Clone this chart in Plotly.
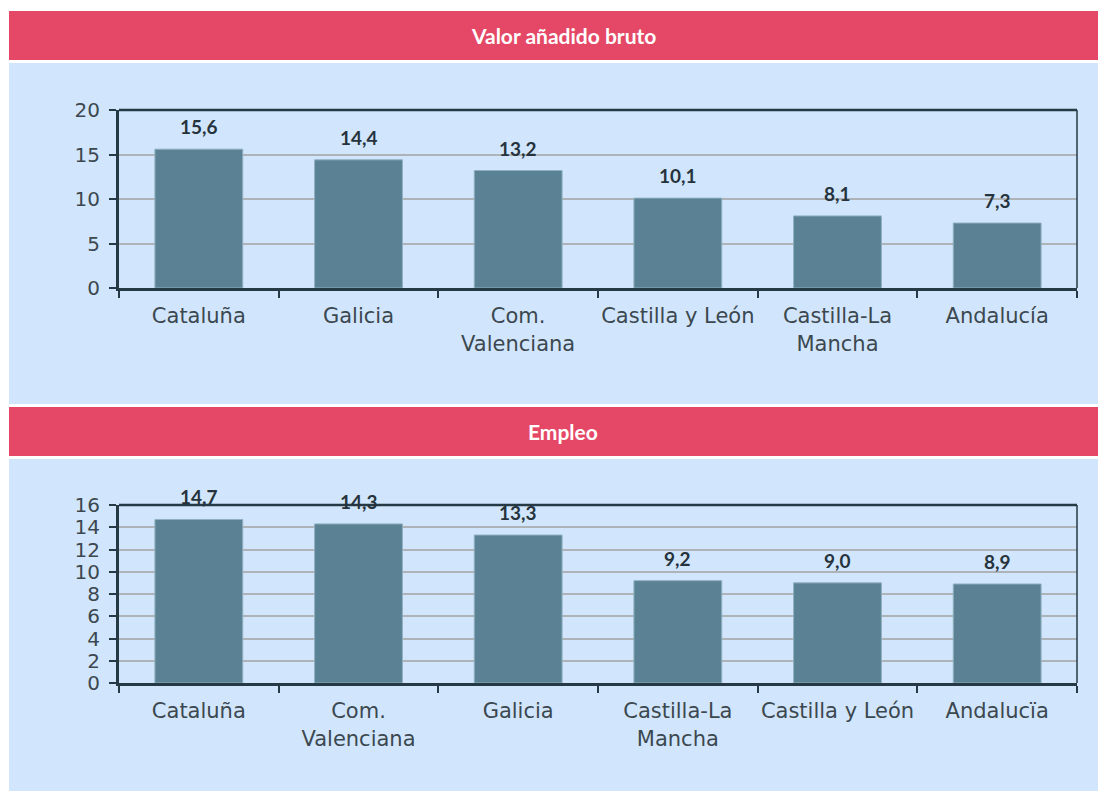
import plotly.graph_objects as go

# ---- data ----
vab_categories = ["Cataluña", "Galicia", "Com.<br>Valenciana", "Castilla y León", "Castilla-La<br>Mancha", "Andalucía"]
vab_values = [15.6, 14.4, 13.2, 10.1, 8.1, 7.3]

emp_categories = ["Cataluña", "Com.<br>Valenciana", "Galicia", "Castilla-La<br>Mancha", "Castilla y León", "Andalucïa"]
emp_values = [14.7, 14.3, 13.3, 9.2, 9.0, 8.9]

titles = ["Valor añadido bruto", "Empleo"]
vab_yticks = [0, 5, 10, 15, 20]
emp_yticks = [0, 2, 4, 6, 8, 10, 12, 14, 16]

OFF = 8  # default page body margin
W, H = 1106 - OFF, 791 - OFF
HEADER = "#E44866"
PANEL = "#D1E6FC"
BAR = "#5B8294"
AXIS = "#263A45"
GRID = "#AEB3B8"
TXT = "#3C4850"
FONT = "DejaVu Sans"
BFONT = "Lato"


def px(x):
    return (x - OFF) / W


def py(y):
    return 1 - (y - OFF) / H


fig = go.Figure()

fig.add_trace(go.Bar(x=vab_categories, y=vab_values, xaxis="x", yaxis="y",
                     marker=dict(color=BAR, line=dict(color="#8FB0C0", width=1)),
                     width=0.55, hoverinfo="x+y"))
fig.add_trace(go.Bar(x=emp_categories, y=emp_values, xaxis="x2", yaxis="y2",
                     marker=dict(color=BAR, line=dict(color="#8FB0C0", width=1)),
                     width=0.55, hoverinfo="x+y"))

annotations = []
for cats, vals, xr, yr in [(vab_categories, vab_values, "x", "y"), (emp_categories, emp_values, "x2", "y2")]:
    for c, v in zip(cats, vals):
        annotations.append(dict(x=c, y=v, xref=xr, yref=yr, text=f"{v:.1f}".replace(".", ","),
                                showarrow=False, yanchor="bottom", yshift=9,
                                font=dict(family=BFONT, size=19, color="#26333C", weight="bold")))

shapes = []
panels = [(11, 60, 63, 404), (407, 456, 459, 791)]
for (h0, h1, p0, p1), t in zip(panels, titles):
    shapes.append(dict(type="rect", xref="paper", yref="paper", x0=px(9), x1=1, y0=py(h1), y1=py(h0),
                       fillcolor=HEADER, line=dict(width=0), layer="below"))
    shapes.append(dict(type="rect", xref="paper", yref="paper", x0=px(9), x1=1, y0=py(p1), y1=py(p0),
                       fillcolor=PANEL, line=dict(width=0), layer="below"))
    annotations.append(dict(x=px(563), y=py((h0 + h1) / 2), xref="paper", yref="paper", text=t,
                            showarrow=False, xanchor="center", yanchor="middle",
                            font=dict(family=BFONT, size=21, color="white", weight="bold")))

for xr, yr in [("x", "y"), ("x2", "y2")]:
    shapes.append(dict(type="line", xref=f"{xr} domain", yref=f"{yr} domain", x0=0, x1=1, y0=1, y1=1,
                       line=dict(color=AXIS, width=2.5)))
    shapes.append(dict(type="line", xref=f"{xr} domain", yref=f"{yr} domain", x0=1, x1=1, y0=0, y1=1,
                       line=dict(color=AXIS, width=1.5)))

xdom = [px(119), px(1077)]
xaxis_common = dict(domain=xdom, showline=True, linewidth=3, linecolor=AXIS, showgrid=False,
                    ticks="outside", tickson="boundaries", ticklen=7, tickwidth=2, tickcolor=AXIS,
                    ticklabelstandoff=7, automargin=False, tickangle=0,
                    tickfont=dict(family=FONT, size=21, color=TXT), type="category", fixedrange=True)
yaxis_common = dict(showline=True, linewidth=3, linecolor=AXIS, showgrid=True, gridcolor=GRID, gridwidth=1.5,
                    ticks="outside", ticklen=7, tickwidth=2, tickcolor=AXIS, zeroline=False,
                    ticklabelstandoff=5, automargin=False,
                    tickfont=dict(family=FONT, size=20, color=TXT), fixedrange=True)

fig.update_layout(
    width=W, height=H, margin=dict(l=0, r=0, t=0, b=0, autoexpand=False),
    paper_bgcolor="white", plot_bgcolor="rgba(0,0,0,0)",
    showlegend=False, bargap=0.45,
    xaxis=dict(**xaxis_common, anchor="y"),
    yaxis=dict(**yaxis_common, anchor="x", domain=[py(288), py(110)], range=[0, 20],
               tickvals=vab_yticks, ticktext=[str(t) for t in vab_yticks]),
    xaxis2=dict(**xaxis_common, anchor="y2"),
    yaxis2=dict(**yaxis_common, anchor="x2", domain=[py(683), py(505)], range=[0, 16],
                tickvals=emp_yticks, ticktext=[str(t) for t in emp_yticks]),
    shapes=shapes, annotations=annotations,
)

fig.write_html("out.html")
